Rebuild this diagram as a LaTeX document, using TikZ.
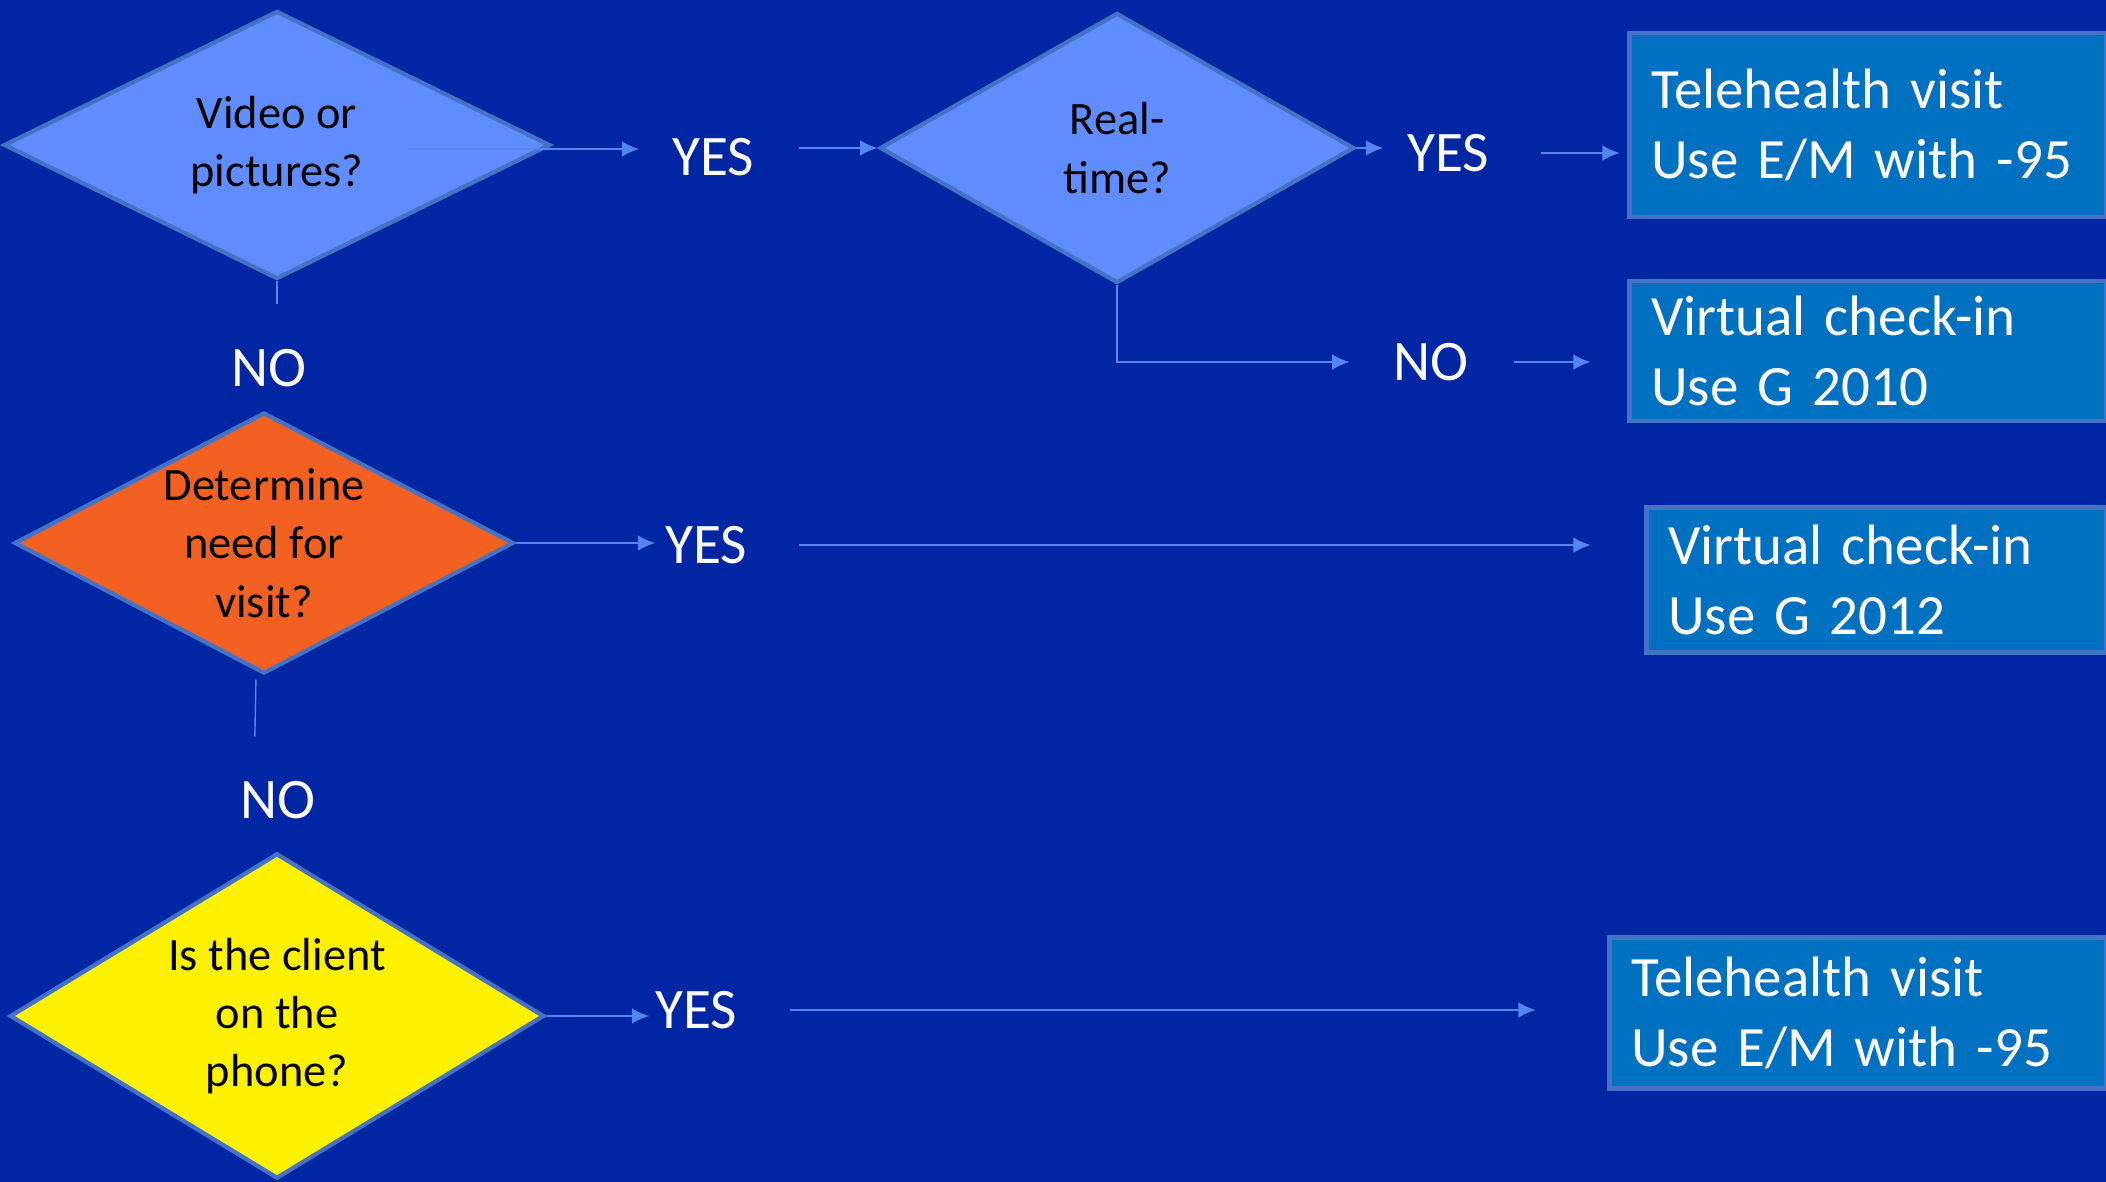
\documentclass[tikz,border=0pt]{standalone}
\usepackage{fontspec}
\setmainfont{Carlito}
\usetikzlibrary{arrows.meta, calc, shapes.geometric, positioning}
\definecolor{bgblue}{HTML}{0026A3}
\definecolor{askblue}{HTML}{5F8CFF}
\definecolor{edgeblue}{HTML}{4472C4}
\definecolor{boxblue}{HTML}{0070C0}
\definecolor{linkblue}{HTML}{5585F0}
\definecolor{askorange}{HTML}{F26122}
\tikzset{>={Latex[length=5pt,width=4.5pt]}}
\tikzset{
  question/.style={diamond, draw=edgeblue, line width=1.2pt, inner sep=-5pt, align=center, text=black, font=\fontsize{13.2}{16.6}\selectfont},
  answer/.style={rectangle, draw=edgeblue, line width=1.3pt, fill=boxblue, text=white, anchor=west, inner xsep=0.22cm, inner ysep=0pt, align=left, font=\fontsize{16.2}{20}\selectfont},
  reply/.style={text=white, inner sep=0pt, font=\fontsize{16.3}{19}\selectfont},
  link/.style={draw=linkblue, line width=0.8pt, ->},
  stub/.style={draw=linkblue, line width=0.4pt},
}

\begin{document}
\begin{tikzpicture}[x=0.01cm, y=-0.01cm]
\useasboundingbox (0,0) rectangle (2106,1182);
\fill[bgblue] (0,0) rectangle (2106,1182);

% questions
\node[question, fill=askblue, aspect=2.04, minimum width=5.46cm, minimum height=2.68cm] (video) at (277,145) {Video or\\pictures?};
\node[question, fill=askblue, aspect=1.76, minimum width=4.74cm, minimum height=2.70cm] (realtime) at (1117,148) {Real-\\time?};
\node[question, fill=askorange, aspect=1.91, minimum width=4.99cm, minimum height=2.61cm] (need) at (264,543) {Determine\\need for\\visit?};
\node[question, fill=yellow, aspect=1.64, minimum width=5.34cm, minimum height=3.25cm] (phone) at (277,1016) {Is the client\\on the\\phone?};

% answers
\node[answer, text width=4.33cm, minimum height=1.84cm] (tele1) at (1627,125) {Telehealth visit\\Use E/M with -95};
\node[answer, text width=4.33cm, minimum height=1.40cm] (check1) at (1627,351) {Virtual check-in\\Use G 2010};
\node[answer, text width=4.16cm, minimum height=1.45cm] (check2) at (1644,580) {Virtual check-in\\Use G 2012};
\node[answer, text width=4.53cm, minimum height=1.51cm] (tele2) at (1607,1013) {Telehealth visit\\Use E/M with -95};

% yes / no
\node[reply] (yesvideo) at (713,157) {YES};
\node[reply] (yesreal) at (1448,153) {YES};
\node[reply] (noreal) at (1431,362) {NO};
\node[reply] (novideo) at (269,368) {NO};
\node[reply] (yesneed) at (706,545) {YES};
\node[reply] (noneed) at (278,800) {NO};
\node[reply] (yesphone) at (696,1010) {YES};

% connectors
\draw[link, shorten >=0.32cm] ($(video.east)+(-144,4)$) -- ($(video.east -| yesvideo.west)+(0,4)$);
\draw[link, shorten <=0.44cm] (yesvideo.east |- realtime.west) -- (realtime.west);
\draw[link, shorten >=0.23cm] (realtime.east) -- (realtime.east -| yesreal.west);
\draw[link, shorten <=0.51cm, shorten >=0.07cm] (yesreal.east) -- (yesreal.east -| tele1.west);
\draw[link, shorten >=0.43cm] (realtime.south) |- (noreal.west);
\draw[link, shorten <=0.45cm, shorten >=0.36cm] (noreal.east) -- (noreal.east -| check1.west);
\draw[stub, shorten >=0.44cm] (video.south) -- (video.south |- novideo.north);
\draw[link, shorten >=0.09cm] (need.east) -- (need.east -| yesneed.west);
\draw[link, shorten <=0.51cm, shorten >=0.53cm] (yesneed.east) -- (yesneed.east -| check2.west);
\draw[stub, shorten <=0.04cm, shorten >=0.44cm] ($(need.south)+(-8,0)$) -- ($(need.south |- noneed.north)+(-10,0)$);
\draw[link, shorten >=0.05cm] (phone.east) -- (phone.east -| yesphone.west);
\draw[link, shorten <=0.52cm, shorten >=0.71cm] (yesphone.east) -- (yesphone.east -| tele2.west);
\end{tikzpicture}
\end{document}
